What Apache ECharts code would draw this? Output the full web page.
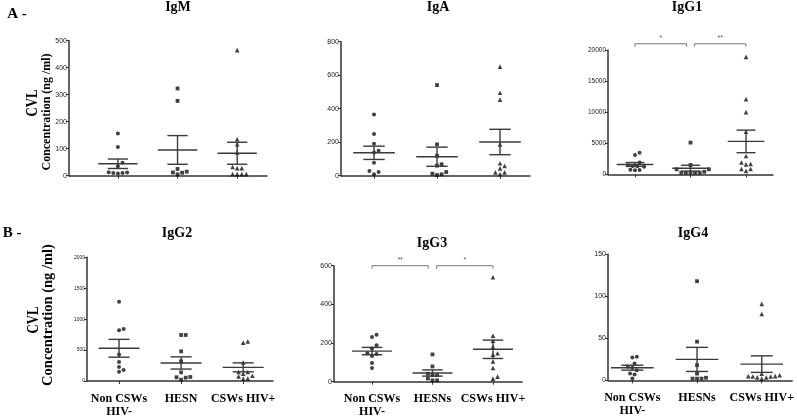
<!DOCTYPE html>
<html><head><meta charset="utf-8">
<script src="https://cdn.jsdelivr.net/npm/echarts@6/dist/echarts.min.js"></script>
<style>html,body{margin:0;padding:0;background:#fff}#c{width:797px;height:420px}</style>
</head><body><div id="c"></div>
<script>
// ---- data ----
const groupLabelsIgG2 = ['Non CSWs\nHIV-', 'HESN', 'CSWs HIV+'];
const groupLabelsIgG34 = ['Non CSWs\nHIV-', 'HESNs', 'CSWs HIV+'];
const panelTitles = ['IgM', 'IgA', 'IgG1', 'IgG2', 'IgG3', 'IgG4'];

const igmNonCSW = [156, 106, 48, 35, 13, 10, 8, 10, 12];
const igmHESN = [323, 277, 25, 12, 5, 11, 15];
const igmCSWHIV = [465, 135, 117, 86, 28, 32, 28, 6, 6, 6, 6];

const igaNonCSW = [366, 249, 191, 149, 139, 78, 28, 22, 8];
const igaHESN = [541, 187, 119, 68, 60, 12, 4, 8, 22];
const igaCSWHIV = [651, 495, 454, 187, 74, 58, 44, 20, 20, 10];

const igg1NonCSW = [3450, 3100, 1900, 1450, 1300, 1350, 1200, 750, 700, 650];
const igg1HESN = [5100, 1500, 800, 800, 400, 250, 250, 250, 250, 250];
const igg1CSWHIV = [18900, 12100, 10000, 6850, 2950, 1900, 1650, 1600, 850, 850, 550];

const igg2NonCSW = [1280, 840, 820, 430, 307, 226, 178, 151];
const igg2HESN = [744, 744, 480, 318, 140, 65, 60, 54, 22];
const igg2CSWHIV = [640, 620, 300, 146, 146, 119, 86, 75, 40, 38];

const igg3NonCSW = [243, 231, 188, 172, 147, 143, 133, 97, 71];
const igg3HESN = [141, 79, 41, 34, 34, 17, 7, 7];
const igg3CSWHIV = [540, 238, 212, 181, 147, 140, 105, 71, 26, 16];

const igg4NonCSW = [28, 27, 20, 15, 16, 12, 8, 7, 2];
const igg4HESN = [118, 46, 18, 8, 2, 2, 2, 3];
const igg4CSWHIV = [91, 79, 8, 5, 4.5, 3.5, 2, 3.5, 4.5, 5, 6];

const yMaxes = [500, 800, 20000, 2000, 600, 150];
const yIntervals = [100, 200, 5000, 500, 200, 50];

// significance brackets: [fromGroup, toGroup, level, text]
const igg1Signif = [[1, 2, 21000, '*'], [2, 3, 21000, '**']];
const igg3Signif = [[1, 2, 600, '**'], [2, 3, 600, '*']];

// ---- layout ----
const panelData = [
  [igmNonCSW, igmHESN, igmCSWHIV],
  [igaNonCSW, igaHESN, igaCSWHIV],
  [igg1NonCSW, igg1HESN, igg1CSWHIV],
  [igg2NonCSW, igg2HESN, igg2CSWHIV],
  [igg3NonCSW, igg3HESN, igg3CSWHIV],
  [igg4NonCSW, igg4HESN, igg4CSWHIV]
];
const panelSignif = [null, null, igg1Signif, null, igg3Signif, null];
const panelXLabels = [null, null, null, groupLabelsIgG2, groupLabelsIgG34, groupLabelsIgG34];
const layouts = [
  {left: 69, top: 40.7, width: 198, height: 135, xMin: 0.18, xMax: 3.5, fs: 7},
  {left: 341, top: 41.7, width: 189, height: 134, xMin: 0.476, xMax: 3.476, fs: 7},
  {left: 608, top: 50, width: 165, height: 124.3, xMin: 0.514, xMax: 3.486, fs: 6.5},
  {left: 87, top: 257.3, width: 186, height: 123.7, xMin: 0.484, xMax: 3.48, fs: 5},
  {left: 334, top: 265.7, width: 188, height: 116, xMin: 0.372, xMax: 3.48, fs: 7},
  {left: 608, top: 254.3, width: 189, height: 126, xMin: 0.624, xMax: 3.47, fs: 7}
];
const symbols = ['circle', 'rect', 'triangle'];
const symbolSizes = [4, 3.8, 4.6];

function swarm(vals, pxPerX, pxPerY, d) {
  const sorted = vals.slice().sort((a, b) => a - b);
  const placed = [], out = [];
  for (const v of sorted) {
    const py = v * pxPerY;
    let best = 0;
    for (let k = 0; k < 60; k++) {
      const off = (k % 2 === 1 ? 1 : -1) * Math.ceil(k / 2) * d / 2;
      if (placed.every(p => Math.hypot(p[0] - off, p[1] - py) >= d * 0.95)) { best = off; break; }
    }
    placed.push([best, py]);
    out.push([best / pxPerX, v]);
  }
  return out;
}
function stats(vals) {
  const n = vals.length;
  const m = vals.reduce((a, b) => a + b, 0) / n;
  const sd = Math.sqrt(vals.reduce((a, b) => a + (b - m) * (b - m), 0) / (n - 1));
  return [m, sd / Math.sqrt(n)];
}

const grids = [], xAxes = [], yAxes = [], series = [];
const lineColor = '#3a3a3a';
layouts.forEach((L, i) => {
  grids.push({left: L.left, top: L.top, width: L.width, height: L.height, containLabel: false});
  const labels = panelXLabels[i];
  xAxes.push({
    gridIndex: i, type: 'value', min: L.xMin, max: L.xMax,
    axisLine: {show: true, onZero: false, lineStyle: {color: '#333', width: 1.5}},
    axisTick: {show: true, customValues: [1, 2, 3], length: 3, lineStyle: {color: '#333', width: 1}},
    axisLabel: labels ? {
      show: true, customValues: [1, 2, 3], margin: 11,
      formatter: v => labels[Math.round(v) - 1],
      fontFamily: 'Liberation Serif', fontWeight: 'bold', fontSize: 12, lineHeight: 13, color: '#000'
    } : {show: false},
    splitLine: {show: false}
  });
  yAxes.push({
    gridIndex: i, type: 'value', min: 0, max: yMaxes[i], interval: yIntervals[i],
    axisLine: {show: true, onZero: false, lineStyle: {color: '#333', width: 1.5}},
    axisTick: {show: true, length: 3, lineStyle: {color: '#333', width: 1}},
    axisLabel: {fontSize: L.fs, margin: 2, color: '#222', fontFamily: 'Liberation Sans', formatter: v => String(v)},
    splitLine: {show: false}
  });
  const pxPerX = L.width / (L.xMax - L.xMin);
  const pxPerY = L.height / yMaxes[i];
  const meanData = [];
  panelData[i].forEach((vals, g) => {
    const pts = swarm(vals, pxPerX, pxPerY, 4.6).map(p => [g + 1 + p[0], p[1]]);
    series.push({
      type: 'scatter', xAxisIndex: i, yAxisIndex: i, data: pts,
      symbol: symbols[g], symbolSize: symbolSizes[g],
      itemStyle: {color: '#111'}, silent: true, z: 3
    });
    const s = stats(vals);
    meanData.push([g + 1, s[0], s[1]]);
  });
  series.push({
    type: 'custom', xAxisIndex: i, yAxisIndex: i, data: meanData, z: 4, silent: true,
    renderItem: (params, api) => {
      const x = api.value(0), m = api.value(1), s = api.value(2);
      const st = {stroke: lineColor, lineWidth: 1.4};
      const seg = (a, b) => ({type: 'line', shape: {x1: a[0], y1: a[1], x2: b[0], y2: b[1]}, style: st});
      return {type: 'group', children: [
        seg(api.coord([x - 0.33, m]), api.coord([x + 0.33, m])),
        seg(api.coord([x - 0.17, m + s]), api.coord([x + 0.17, m + s])),
        seg(api.coord([x - 0.17, m - s]), api.coord([x + 0.17, m - s])),
        seg(api.coord([x, m - s]), api.coord([x, m + s]))
      ]};
    }
  });
  if (panelSignif[i]) {
    series.push({
      type: 'custom', xAxisIndex: i, yAxisIndex: i, data: panelSignif[i], clip: false, z: 5, silent: true,
      renderItem: (params, api) => {
        const a = api.value(0), b = api.value(1), lv = api.value(2);
        const sig = panelSignif[i][params.dataIndex][3];
        const x1 = a === 2 ? a + 0.07 : a, x2 = b === 2 ? b - 0.07 : b;
        const p1 = api.coord([x1, lv]), p2 = api.coord([x2, lv]);
        return {type: 'group', children: [
          {type: 'polyline', shape: {points: [[p1[0], p1[1] + 3], p1, p2, [p2[0], p2[1] + 3]]}, style: {stroke: '#777', lineWidth: 1, fill: null}},
          {type: 'text', style: {text: sig, x: (p1[0] + p2[0]) / 2, y: p1[1] - 2, align: 'center', verticalAlign: 'bottom', textAlign: 'center', textVerticalAlign: 'bottom', fontSize: 7, fill: '#555', fontFamily: 'Liberation Sans'}}
        ]};
      }
    });
  }
});

// ---- text ----
const serif = 'Liberation Serif';
const titlePos = [[178, 7], [438, 7], [687, 7], [177, 233], [432, 243], [693, 233]];
const graphics = titlePos.map((p, i) => ({
  type: 'text', x: p[0], y: p[1],
  style: {text: panelTitles[i], x: 0, y: 0, align: 'center', verticalAlign: 'middle', textAlign: 'center', textVerticalAlign: 'middle',
    fontSize: 14, fontWeight: 'bold', fontFamily: serif, fill: '#000'}
}));
const addText = (t, x, y, fs, rot, sx) => graphics.push({
  type: 'text', x: x, y: y, rotation: rot || 0, scaleX: sx || 1,
  style: {text: t, x: 0, y: 0, align: 'center', verticalAlign: 'middle', textAlign: 'center', textVerticalAlign: 'middle',
    fontSize: fs, fontWeight: 'bold', fontFamily: serif, fill: '#000'}
});
addText('A -', 17, 14, 15);
addText('B -', 12, 233, 15);
addText('CVL', 32.5, 103, 16, Math.PI / 2, 0.8);
addText('Concentration (ng /ml)', 46.5, 112, 13, Math.PI / 2, 0.92);
addText('CVL', 34, 320, 16, Math.PI / 2, 0.8);
addText('Concentration (ng /ml)', 48, 315, 14.5, Math.PI / 2, 1);

const chart = echarts.init(document.getElementById('c'), null, {renderer: 'canvas'});
chart.setOption({
  animation: false,
  backgroundColor: '#fff',
  grid: grids, xAxis: xAxes, yAxis: yAxes, series: series, graphic: graphics
});
</script></body></html>
